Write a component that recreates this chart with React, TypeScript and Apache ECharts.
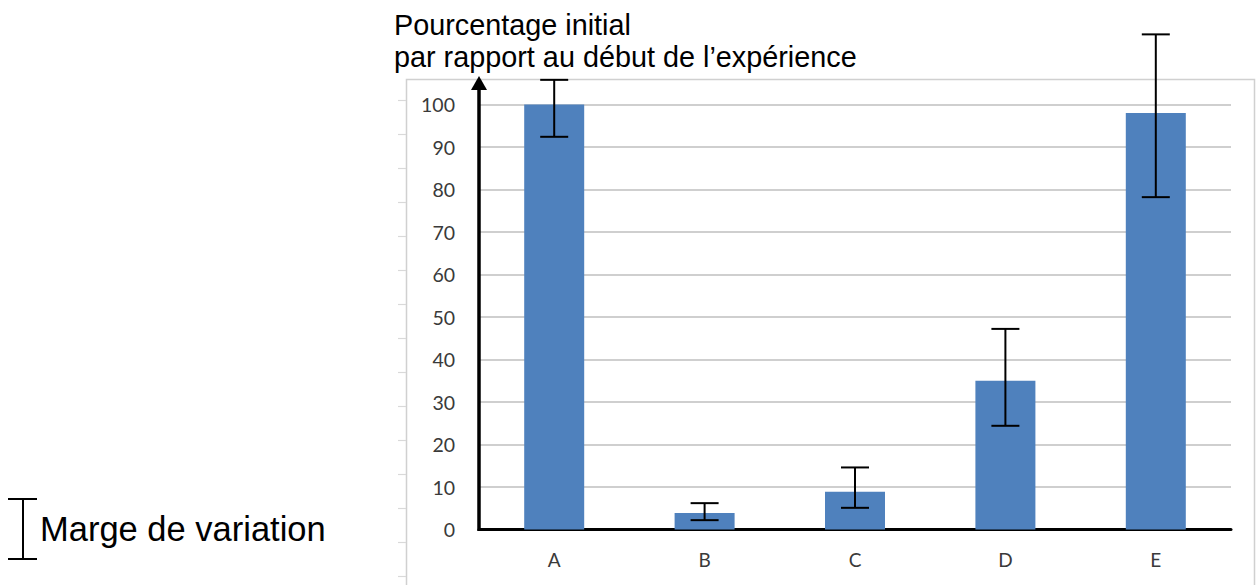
import React, { useEffect, useRef } from "react";
import * as echarts from "echarts";

const categories = ["A", "B", "C", "D", "E"];
const values = [100, 3.9, 8.9, 35, 98];
const errLow = [92.4, 2.2, 5.1, 24.4, 78.2];
const errHigh = [105.8, 6.2, 14.6, 47.2, 116.5];
const yTicks = { min: 0, max: 100, interval: 10 };
const titleLines = ["Pourcentage initial", "par rapport au début de l’expérience"];
const legendLabel = "Marge de variation";

export default function App() {
  const ref = useRef<HTMLDivElement>(null);
  useEffect(() => {
    if (!ref.current) return;
    const chart = echarts.init(ref.current, undefined, { renderer: "svg" });
    const sideTicks: any[] = [];
    for (let i = 0; i < 15; i++) {
      const y = 100.5 + i * 34;
      sideTicks.push({
        type: "line",
        shape: { x1: 398, y1: y, x2: 406, y2: y },
        style: { stroke: "#d9d9d9", lineWidth: 1.2 },
        silent: true,
      });
    }
    const option: any = {
      animation: false,
      backgroundColor: "#ffffff",
      grid: { left: 479, right: 25, top: 104.5, bottom: 55.5, containLabel: false },
      xAxis: {
        type: "category",
        data: categories,
        axisLine: { show: true, lineStyle: { color: "#000", width: 3 } },
        axisTick: { show: false },
        axisLabel: {
          color: "#3a3a3a",
          fontSize: 19,
          fontFamily: "Lato",
          margin: 20,
        },
        splitLine: { show: false },
      },
      yAxis: {
        type: "value",
        min: yTicks.min,
        max: yTicks.max,
        interval: yTicks.interval,
        axisLine: { show: false },
        axisTick: { show: false },
        axisLabel: {
          color: "#3a3a3a",
          fontSize: 19.5,
          fontFamily: "Lato",
          margin: 24,
        },
        splitLine: { show: true, lineStyle: { color: "#bfbfbf", width: 1.5 } },
      },
      series: [
        {
          type: "bar",
          data: values,
          barWidth: 60,
          itemStyle: { color: "#4f81bd" },
          z: 2,
        },
        {
          type: "custom",
          data: categories.map((_, i) => [i, errLow[i], errHigh[i]]),
          z: 5,
          renderItem: (params: any, api: any) => {
            const idx = api.value(0);
            const lo = api.coord([idx, api.value(1)]);
            const hi = api.coord([idx, api.value(2)]);
            const hw = 14;
            const st = { stroke: "#000", lineWidth: 2 };
            return {
              type: "group",
              children: [
                { type: "line", shape: { x1: lo[0], y1: lo[1], x2: hi[0], y2: hi[1] }, style: st },
                { type: "line", shape: { x1: lo[0] - hw, y1: lo[1], x2: lo[0] + hw, y2: lo[1] }, style: st },
                { type: "line", shape: { x1: hi[0] - hw, y1: hi[1], x2: hi[0] + hw, y2: hi[1] }, style: st },
              ],
            };
          },
        },
      ],
      graphic: [
        {
          type: "rect",
          shape: { x: 406.5, y: 79.5, width: 848, height: 600 },
          style: { fill: "none", stroke: "#d0d0d0", lineWidth: 1.5 },
          silent: true,
          z: 0,
        },
        ...sideTicks,
        {
          type: "line",
          shape: { x1: 479, y1: 531, x2: 479, y2: 88 },
          style: { stroke: "#000", lineWidth: 3.5 },
          z: 10,
        },
        {
          type: "polygon",
          shape: { points: [[479, 76], [471, 90], [487, 90]] },
          style: { fill: "#000" },
          z: 10,
        },
        {
          type: "text",
          x: 394,
          y: 25,
          style: {
            text: titleLines[0],
            fontSize: 28.8,
            fontFamily: "Liberation Sans",
            fill: "#000",
            verticalAlign: "middle",
            align: "left",
          },
          z: 10,
        },
        {
          type: "text",
          x: 394,
          y: 57,
          style: {
            text: titleLines[1],
            fontSize: 28.8,
            fontFamily: "Liberation Sans",
            fill: "#000",
            verticalAlign: "middle",
            align: "left",
          },
          z: 10,
        },
        {
          type: "line",
          shape: { x1: 23, y1: 499, x2: 23, y2: 559 },
          style: { stroke: "#000", lineWidth: 2 },
        },
        {
          type: "line",
          shape: { x1: 8, y1: 499, x2: 37, y2: 499 },
          style: { stroke: "#000", lineWidth: 2 },
        },
        {
          type: "line",
          shape: { x1: 8, y1: 559, x2: 37, y2: 559 },
          style: { stroke: "#000", lineWidth: 2 },
        },
        {
          type: "text",
          x: 40,
          y: 529,
          style: {
            text: legendLabel,
            fontSize: 34.5,
            fontFamily: "Liberation Sans",
            fill: "#000",
            verticalAlign: "middle",
            align: "left",
          },
        },
      ],
    };
    chart.setOption(option);
    return () => chart.dispose();
  }, []);
  return (
    <div
      ref={ref}
      style={{ position: "absolute", left: 0, top: 0, width: 1256, height: 585 }}
    />
  );
}
